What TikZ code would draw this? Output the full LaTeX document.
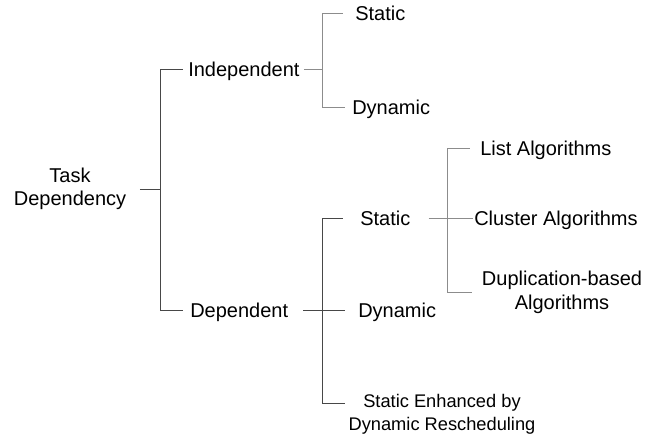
\documentclass[tikz,border=0pt]{standalone}
\usepackage{fontspec}
\setmainfont{Liberation Sans}
\usepackage{tikz}

\begin{document}
\begin{tikzpicture}[x=0.75pt,y=-0.75pt,
  lbl/.style={font=\fontsize{15}{18}\selectfont,inner sep=0pt,anchor=west,text height=10.8pt,text depth=0pt},
  twolbl/.style={font=\fontsize{15}{17.5}\selectfont,inner sep=0pt,align=center},
  smalllbl/.style={font=\fontsize{13.7}{17.3}\selectfont,inner sep=0pt,align=center},
  dk/.style={draw=black!72,line width=0.6pt},
  lt/.style={draw=black!45,line width=0.6pt}]
\useasboundingbox (0,0) rectangle (646,434);

\node[twolbl] (task) at (70,189) {Task\\Dependency};
\node[lbl] (indep) at (188,69) {Independent};
\node[lbl] (dep) at (190,310) {Dependent};
\node[lbl] (istat) at (355,13) {Static};
\node[lbl] (idyn) at (352,107) {Dynamic};
\node[lbl] (dstat) at (360,218) {Static};
\node[lbl] (ddyn) at (358,310) {Dynamic};
\node[smalllbl] (sedr) at (442,414) {Static Enhanced by\\Dynamic Rescheduling};
\node[lbl] (list) at (480,148) {List Algorithms};
\node[lbl] (clus) at (474,218) {Cluster Algorithms};
\node[twolbl,font=\fontsize{15}{18}\selectfont] (dup) at (562,292) {Duplication-based\\Algorithms};

\coordinate (tk) at (160,189);
\coordinate (b2) at (322,69);
\coordinate (b3) at (322,310);
\coordinate (b3e) at (345,403);
\coordinate (b4) at (447,218);

% task dependency
\draw[dk,shorten <=10pt] (task.east) -- (tk);
\draw[dk,shorten >=3.75pt] (tk) |- (indep.west);
\draw[dk,shorten >=5.25pt] (tk) |- (dep.west);

% independent
\draw[lt,shorten <=3pt] (indep.east) -- (b2);
\draw[lt,shorten >=9pt] (b2) |- (istat.west);
\draw[lt,shorten >=5.25pt] (b2) |- (idyn.west);

% dependent
\draw[dk,shorten <=11.25pt,shorten >=9.75pt] (dep.east) -- (ddyn.west);
\draw[dk,shorten >=12.75pt] (b3) |- (dstat.west);
\draw[dk] (b3) |- (b3e);

% static
\draw[lt,shorten <=13.5pt,shorten >=1pt] (dstat.east) -- (clus.west);
\draw[lt,shorten >=7.5pt] (b4) |- (list.west);
\draw[lt,shorten >=7.5pt] (b4) |- (dup.west);
\end{tikzpicture}
\end{document}
